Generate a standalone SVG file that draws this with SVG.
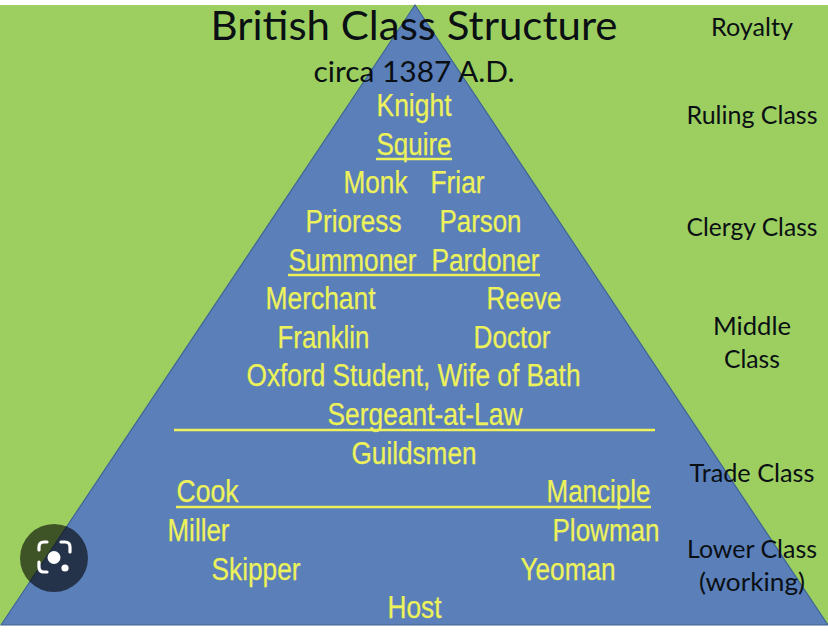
<svg xmlns="http://www.w3.org/2000/svg" width="828" height="644" viewBox="0 0 828 644">
<style>
.k{font-family:"Lato","Open Sans","Noto Sans",sans-serif;fill:#0a0f14;text-anchor:middle}
.t{font-size:24.5px}
.y{font-family:"Liberation Sans",Arial,sans-serif;font-size:31px;fill:#eef25a;stroke:#eef25a;stroke-width:.25;text-anchor:start}
.u{stroke:#eef25a;stroke-width:2.7;fill:none}
</style>
<rect width="828" height="644" fill="#ffffff"/>
<rect id="background" x="0" y="5" width="828" height="620" fill="#9ccf60"/>
<path id="pyramid" d="M415 5L828 625H1Z" fill="#5a7fb9" stroke="#3f6496" stroke-width="1.2"/>
<g id="title"><text class="k" x="414" y="39.500" font-size="40" textLength="407" lengthAdjust="spacingAndGlyphs">British Class Structure</text>
<text class="k" x="414" y="82" font-size="29" textLength="201" lengthAdjust="spacingAndGlyphs">circa 1387 A.D.</text></g>
<g id="side-labels">
<text class="k t" x="752" y="35.500" textLength="82" lengthAdjust="spacingAndGlyphs">Royalty</text>
<text class="k t" x="752" y="124" textLength="131" lengthAdjust="spacingAndGlyphs">Ruling Class</text>
<text class="k t" x="752" y="236" textLength="131" lengthAdjust="spacingAndGlyphs">Clergy Class</text>
<text class="k t" x="752" y="335" textLength="78" lengthAdjust="spacingAndGlyphs">Middle</text>
<text class="k t" x="752" y="368" textLength="56" lengthAdjust="spacingAndGlyphs">Class</text>
<text class="k t" x="752" y="482" textLength="125" lengthAdjust="spacingAndGlyphs">Trade Class</text>
<text class="k t" x="752" y="558" textLength="130" lengthAdjust="spacingAndGlyphs">Lower Class</text>
<text class="k t" x="752" y="591" textLength="106" lengthAdjust="spacingAndGlyphs">(working)</text>
</g>
<g id="classes">
<text class="y" x="376.500" y="116" textLength="75" lengthAdjust="spacingAndGlyphs">Knight</text>
<text class="y" x="376.500" y="155" textLength="75" lengthAdjust="spacingAndGlyphs">Squire</text>
<text class="y" x="343.500" y="193" textLength="64" lengthAdjust="spacingAndGlyphs">Monk</text>
<text class="y" x="430.500" y="193" textLength="54" lengthAdjust="spacingAndGlyphs">Friar</text>
<text class="y" x="305.500" y="232" textLength="96" lengthAdjust="spacingAndGlyphs">Prioress</text>
<text class="y" x="439.500" y="232" textLength="82" lengthAdjust="spacingAndGlyphs">Parson</text>
<text class="y" x="288.500" y="271" textLength="128" lengthAdjust="spacingAndGlyphs">Summoner</text>
<text class="y" x="431.500" y="271" textLength="108" lengthAdjust="spacingAndGlyphs">Pardoner</text>
<text class="y" x="265.500" y="309" textLength="110" lengthAdjust="spacingAndGlyphs">Merchant</text>
<text class="y" x="486.500" y="309" textLength="75" lengthAdjust="spacingAndGlyphs">Reeve</text>
<text class="y" x="277.500" y="348" textLength="92" lengthAdjust="spacingAndGlyphs">Franklin</text>
<text class="y" x="473.500" y="348" textLength="77" lengthAdjust="spacingAndGlyphs">Doctor</text>
<text class="y" x="246.500" y="386" textLength="334" lengthAdjust="spacingAndGlyphs">Oxford Student, Wife of Bath</text>
<text class="y" x="327.500" y="425" textLength="195" lengthAdjust="spacingAndGlyphs">Sergeant-at-Law</text>
<text class="y" x="351.500" y="464" textLength="125" lengthAdjust="spacingAndGlyphs">Guildsmen</text>
<text class="y" x="176.500" y="502" textLength="62" lengthAdjust="spacingAndGlyphs">Cook</text>
<text class="y" x="546.500" y="502" textLength="104" lengthAdjust="spacingAndGlyphs">Manciple</text>
<text class="y" x="167.500" y="541" textLength="62" lengthAdjust="spacingAndGlyphs">Miller</text>
<text class="y" x="552.500" y="541" textLength="107" lengthAdjust="spacingAndGlyphs">Plowman</text>
<text class="y" x="211.500" y="580" textLength="89" lengthAdjust="spacingAndGlyphs">Skipper</text>
<text class="y" x="520.500" y="580" textLength="95" lengthAdjust="spacingAndGlyphs">Yeoman</text>
<text class="y" x="387.500" y="618" textLength="54" lengthAdjust="spacingAndGlyphs">Host</text>
</g>
<g id="connectors">
<path class="u" d="M376 159H452M288 275H540M174 430H655M176 507H651"/>
</g>
<g id="lens">
<circle cx="54" cy="558" r="34" fill="#000" fill-opacity=".6"/>
<path d="M47 542H44Q39 542 39 547V550M61 542H65Q70 542 70 547V552M39 562V567Q39 572 44 572H47" fill="none" stroke="#fff" stroke-width="3.2" stroke-linecap="round"/>
<circle cx="54" cy="557.500" r="6.500" fill="#fff"/>
<circle cx="65" cy="568" r="3.600" fill="#fff"/>
</g>
</svg>
